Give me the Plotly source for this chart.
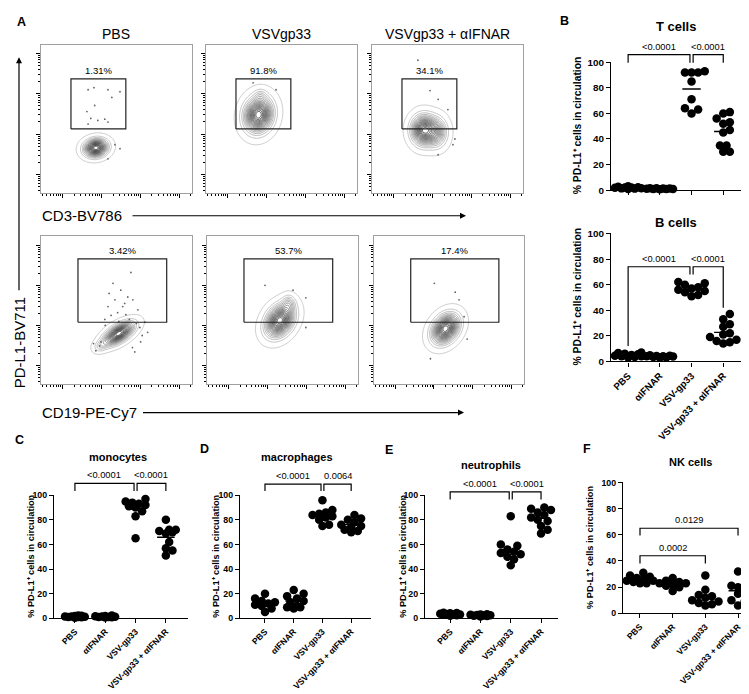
import numpy as np
import plotly.graph_objects as go

# ---------------- data ----------------
groups = ["PBS", "αIFNAR", "VSV-gp33", "VSV-gp33 + αIFNAR"]

t_cells = [
    [1.0, 1.5, 2.0, 2.6, 1.2, 1.8, 2.3, 3.0, 1.4, 2.0],
    [0.8, 1.0, 1.2, 1.4, 1.1, 0.9, 1.5, 1.3, 1.0],
    [92, 92, 93, 92, 85, 71, 64, 63, 60],
    [61, 60, 56, 53, 52, 47, 45, 35, 35, 30, 30],
]
b_cells = [
    [3.0, 4.0, 5.0, 6.0, 7.0, 4.5, 3.5, 5.5, 4.0, 6.5],
    [3.0, 3.5, 4.0, 4.5, 3.8, 4.2, 3.2, 4.8, 4.0],
    [62, 61, 60, 58, 57, 56, 55, 54, 52, 51],
    [37, 33, 29, 27, 22, 21, 19, 17, 16, 15, 14],
]
monocytes = [
    [0.5, 1.0, 1.5, 2.0, 1.0, 0.8, 1.2, 1.8, 2.2, 1.4],
    [0.6, 1.0, 1.4, 1.8, 2.2, 1.1, 0.9, 1.6, 1.3],
    [97, 95, 94, 93, 92, 91, 90, 87, 83, 65],
    [80, 72, 72, 71, 70, 69, 62, 57, 55, 51],
]
macrophages = [
    [20, 16, 14, 13, 12, 11, 10, 8, 5],
    [23, 20, 18, 16, 14, 13, 10, 9, 9, 8],
    [96, 88, 86, 85, 84, 83, 82, 80, 76, 75],
    [84, 81, 80, 78, 76, 75, 74, 72, 71, 70],
]
neutrophils = [
    [2.0, 2.5, 3.0, 3.5, 4.0, 4.5, 3.0, 2.8, 3.6, 4.2],
    [1.5, 2.0, 2.5, 3.0, 2.2, 2.8, 1.8, 2.6, 3.2],
    [83, 60, 59, 56, 54, 53, 52, 50, 48, 43],
    [90, 89, 88, 86, 84, 82, 80, 79, 75, 72, 69],
]
nk_cells = [
    [31, 29, 28, 27, 26, 25, 25, 24, 23, 23],
    [27, 25, 24, 23, 23, 22, 21, 20, 17],
    [29, 18, 14, 13, 12, 10, 9, 8, 7, 6],
    [32, 23, 21, 20, 19, 15, 10, 9, 6],
]

t_pvals = ["<0.0001", "<0.0001"]
b_pvals = ["<0.0001", "<0.0001"]
mono_pvals = ["<0.0001", "<0.0001"]
macro_pvals = ["<0.0001", "0.0064"]
neut_pvals = ["<0.0001", "<0.0001"]
nk_pvals = ["0.0129", "0.0002"]

# flow cytometry: titles, gate frequencies, gates (log10 fluorescence units)
flow_titles = ["PBS", "VSVgp33", "VSVgp33 + αIFNAR"]
cd3_pcts = ["1.31%", "91.8%", "34.1%"]
cd19_pcts = ["3.42%", "53.7%", "17.4%"]
cd3_gate = [2.22, 3.63, 3.13, 4.37]    # x0, x1, y0, y1
cd19_gate = [2.40, 4.68, 3.08, 4.66]

# population density components: (cx, cy, sx, sy, rho, weight), log10 units
cd3_pops = [
    [(2.86, 2.66, 0.17, 0.125, 0.1, 1.0)],
    [(2.80, 3.48, 0.21, 0.25, 0.1, 1.0), (2.85, 3.95, 0.10, 0.10, 0.0, 0.1)],
    [(2.78, 3.10, 0.18, 0.21, 0.0, 1.0), (3.10, 3.05, 0.16, 0.21, 0.0, 0.5)],
]
cd19_pops = [
    [(3.45, 2.80, 0.22, 0.16, 0.6, 1.0), (3.00, 2.50, 0.11, 0.09, 0.3, 0.15)],
    [(3.32, 3.12, 0.21, 0.23, 0.3, 1.0), (3.55, 3.55, 0.10, 0.12, 0.0, 0.2)],
    [(3.30, 2.92, 0.20, 0.21, 0.3, 1.0)],
]
# sparse events outside the contours (log10 x, log10 y)
cd3_events = [
    [(2.66, 4.10), (2.81, 4.15), (3.17, 4.10), (3.48, 4.05), (3.27, 3.91), (2.63, 3.56),
     (2.83, 3.71), (2.73, 3.39), (2.91, 3.34), (3.09, 3.37), (3.17, 3.30), (2.66, 3.25),
     (3.35, 2.74), (3.48, 2.64), (3.17, 2.39)],
    [(2.66, 4.27), (3.25, 4.10)],
    [(2.94, 4.08), (3.15, 3.86), (3.40, 3.61), (3.58, 2.88), (3.53, 2.74), (3.15, 2.49),
     (2.63, 4.83)],
]
cd19_events = [
    [(3.76, 4.32), (3.30, 4.05), (3.50, 3.88), (3.81, 3.64), (3.17, 3.47), (3.94, 3.39),
     (3.63, 3.27), (4.12, 3.08), (3.09, 3.15), (4.19, 2.83), (4.01, 2.59), (2.99, 2.59),
     (2.86, 2.37), (3.86, 2.34), (3.35, 3.64), (3.55, 3.47), (3.68, 3.71), (3.42, 3.32),
     (3.99, 2.95), (2.96, 2.49), (3.25, 3.25), (3.72, 3.15), (3.90, 3.05), (3.10, 3.00),
     (4.05, 2.75), (3.80, 2.45), (2.80, 2.55), (3.60, 3.55), (3.20, 3.80), (3.45, 3.10)],
    [(2.94, 4.00), (3.66, 3.88), (3.99, 3.69), (3.99, 2.95)],
    [(3.01, 4.05), (3.55, 3.83), (3.65, 3.64), (3.86, 2.66), (2.91, 2.17), (3.78, 3.22)],
]

# ---------------- layout helpers ----------------
W, H = 749, 694
FONT = "Liberation Sans, Arial, sans-serif"


def dom_x(a, b):
    return [a / W, b / W]


def dom_y(top, bottom):
    return [1 - bottom / H, 1 - top / H]


fig = go.Figure()
layout = dict(width=W, height=H, margin=dict(l=0, r=0, t=0, b=0),
              paper_bgcolor="white", plot_bgcolor="rgba(0,0,0,0)", showlegend=False,
              font=dict(family=FONT, color="black"))
annotations = []


def txt(x, y, text, size, bold=False, angle=0, xanchor="center", yanchor="middle"):
    annotations.append(dict(x=x / W, y=1 - y / H, xref="paper", yref="paper", text=text,
                            showarrow=False, textangle=angle, xanchor=xanchor, yanchor=yanchor,
                            font=dict(size=size, family=FONT, color="black",
                                      weight="bold" if bold else "normal")))


def arrow_label(hx, hy, cx, cy, text, size, angle=0, standoff=8):
    # label centred at (cx, cy) px with an arrow running from it to the head (hx, hy)
    annotations.append(dict(x=hx / W, y=1 - hy / H, xref="paper", yref="paper", text=text,
                            showarrow=True, ax=cx - hx, ay=cy - hy, textangle=angle,
                            arrowhead=2, arrowsize=1, arrowwidth=1.2, arrowcolor="black",
                            startstandoff=standoff,
                            font=dict(size=size, family=FONT, color="black")))


# ---------------- panel A: flow plots (axes in log10 units) ----------------
FX = [1.45, 5.33]
FY = [1.54, 5.22]
flow_boxes = [(33, 184, 31, 182), (198, 349, 31, 182), (364, 515, 31, 182),
              (33, 184, 226, 376), (199, 350, 226, 376), (366, 516, 226, 376)]


def decade_ticks(rng):
    major = [d for d in range(1, 7) if rng[0] <= d <= rng[1]]
    minor = [d + np.log10(k) for d in range(0, 7) for k in range(2, 10)
             if rng[0] <= d + np.log10(k) <= rng[1]]
    return major, minor


gx = np.linspace(FX[0], FX[1], 180)
gy = np.linspace(FY[0], FY[1], 180)
XX, YY = np.meshgrid(gx, gy)


def density(comps):
    z = np.zeros_like(XX)
    for cx, cy, sx, sy, rho, w in comps:
        u = (XX - cx) / sx
        v = (YY - cy) / sy
        q = (u * u - 2 * rho * u * v + v * v) / (1 - rho * rho)
        z += w * np.exp(-q / 2)
    return z / z.max()


flow_pops = cd3_pops + cd19_pops
flow_events = cd3_events + cd19_events
flow_pcts = cd3_pcts + cd19_pcts

for k in range(6):
    n = k + 1
    xa = "x" if n == 1 else f"x{n}"
    ya = "y" if n == 1 else f"y{n}"
    x0, x1, top, bot = flow_boxes[k]
    gate = cd3_gate if k < 3 else cd19_gate
    ax_common = dict(showline=True, mirror=True, linecolor="#a0a0a0", linewidth=1,
                     ticks="outside", ticklen=4, tickwidth=1, tickcolor="black",
                     showticklabels=False, showgrid=False, zeroline=False)
    mjx, mnx = decade_ticks(FX)
    mjy, mny = decade_ticks(FY)
    layout[f"xaxis{n}"] = dict(ax_common, domain=dom_x(x0, x1), range=FX, anchor=ya,
                               tickvals=mjx,
                               minor=dict(tickvals=mnx, ticks="outside", ticklen=2,
                                          tickwidth=0.8, tickcolor="black", showgrid=False))
    layout[f"yaxis{n}"] = dict(ax_common, domain=dom_y(top, bot), range=FY, anchor=xa,
                               tickvals=mjy,
                               minor=dict(tickvals=mny, ticks="outside", ticklen=2,
                                          tickwidth=0.8, tickcolor="black", showgrid=False))

    fig.add_trace(go.Contour(
        x=gx, y=gy, z=density(flow_pops[k]), xaxis=xa, yaxis=ya,
        autocontour=False, contours=dict(coloring="lines", start=0.012, end=0.97, size=0.055),
        line=dict(width=0.7), colorscale=[[0, "#b4b4b4"], [0.5, "#555555"], [1, "#151515"]],
        showscale=False, hoverinfo="skip"))
    ev = flow_events[k]
    fig.add_trace(go.Scatter(
        x=[e[0] for e in ev], y=[e[1] for e in ev], mode="markers",
        marker=dict(size=1.8, color="#666"), xaxis=xa, yaxis=ya, hoverinfo="skip"))
    fig.add_trace(go.Scatter(
        x=[gate[0], gate[1], gate[1], gate[0], gate[0]],
        y=[gate[2], gate[2], gate[3], gate[3], gate[2]], mode="lines",
        line=dict(color="#222", width=1.2), xaxis=xa, yaxis=ya, hoverinfo="skip"))
    annotations.append(dict(x=(gate[0] + gate[1]) / 2, y=gate[3], xref=xa, yref=ya,
                            text=flow_pcts[k], showarrow=False, yanchor="bottom", yshift=1,
                            font=dict(size=9.5, family=FONT, color="black")))

for k, t in enumerate(flow_titles):
    x0, x1, _, _ = flow_boxes[k]
    txt((x0 + x1) / 2, 20, t, 14)

arrow_label(458, 205, 74, 205, "CD3-BV786", 15, standoff=9)
arrow_label(456, 405, 81, 405, "CD19-PE-Cy7", 15, standoff=5)
arrow_label(11, 44, 11, 330, "PD-L1-BV711", 15, angle=-90, standoff=6)

# ---------------- panels B-F: scatter dot plots ----------------
# data, pvals, x0px, x1px, px of 100, px of 0, xrange, brackets, title, title pos,
# y-title x, show x labels, font scale
dot_panels = [
    (t_cells, t_pvals, 603, 733, 49, 179, [-0.54, 3.56],
     [(0, 1.95, 106, 99.5, 99.5), (2.05, 3, 106, 99.5, 99.5)],
     "T cells", (668, 13), 569, False, 1.12),
    (b_cells, b_pvals, 603, 733, 223, 353, [-0.54, 3.56],
     [(0, 1.95, 74, 12, 68), (2.05, 3, 74, 68, 42)],
     "B cells", (668, 212), 569, True, 1.12),
    (monocytes, mono_pvals, 46, 180, 489, 614, [-0.69, 3.73],
     [(0, 1.95, 109.6, 103.5, 103.5), (2.05, 3, 109.6, 103.5, 103.5)],
     "monocytes", (110, 450), 23, True, 1.0),
    (macrophages, macro_pvals, 232, 363, 489, 614, [-0.87, 3.69],
     [(0, 1.95, 109, 103.5, 103.5), (2.05, 3, 109, 103.5, 103.5)],
     "macrophages", (289, 450), 208, True, 1.0),
    (neutrophils, neut_pvals, 417, 550, 489, 614, [-0.83, 3.56],
     [(0, 1.95, 102.7, 96.5, 96.5), (2.05, 3, 102.7, 96.5, 96.5)],
     "neutrophils", (483, 458), 395, True, 1.0),
    (nk_cells, nk_pvals, 615, 748, 476, 609, [-0.52, 3.55],
     [(0, 3, 65, 59.4, 59.4), (0, 2, 44, 38, 38)],
     "NK cells", (682, 455), 582, True, 1.0),
]

DOT = 8.5
YMAX = 125


def swarm(vals, ppx, ppy, d=6.6, maxoff=0.42):
    vals = np.asarray(vals, float)
    res = np.zeros(len(vals))
    placed = []
    step = d * 0.5
    cands = [0.0]
    for m in range(1, 14):
        cands += [m * step, -m * step]
    cands = [c for c in cands if abs(c) <= maxoff * ppx]
    for k in np.argsort(vals):
        y = vals[k] * ppy
        best, best_d, best_c = None, -1, 0.0
        for c in cands:
            md = min([np.hypot(c - px, y - py) for px, py in placed] or [1e9])
            if md >= d:
                best = c
                break
            if md > best_d:
                best_d, best_c = md, c
        if best is None:
            best = best_c
        placed.append((best, y))
        res[k] = best / ppx
    return res


for p, (data, pvals, x0, x1, top, bot, xr, brs, title, tpos, ytx, labels, fs) in enumerate(dot_panels):
    n = p + 7          # visible axes, 0-100
    m = p + 13         # hidden axes with headroom for the brackets
    xa, ya = f"x{n}", f"y{n}"
    xb, yb = f"x{m}", f"y{m}"
    ppx = (x1 - x0) / (xr[1] - xr[0])
    ppy = (bot - top) / 100.0
    top_ext = top - (YMAX - 100) * ppy
    layout[f"xaxis{n}"] = dict(
        domain=dom_x(x0, x1), range=xr, anchor=ya, tickvals=list(range(4)),
        ticktext=groups, showticklabels=labels, tickangle=-45,
        ticks="outside", ticklen=4, tickwidth=1.2, tickcolor="black",
        showline=True, linecolor="black", linewidth=1.3, showgrid=False, zeroline=False,
        tickfont=dict(size=8.6 * fs, family=FONT, color="black", weight="bold"))
    layout[f"yaxis{n}"] = dict(
        domain=dom_y(top, bot), range=[0, 100], anchor=xa, tickvals=[0, 20, 40, 60, 80, 100],
        ticks="outside", ticklen=4, tickwidth=1.2, tickcolor="black",
        showline=True, linecolor="black", linewidth=1.3, showgrid=False, zeroline=False,
        tickfont=dict(size=8.8 * fs, family=FONT, color="black", weight="bold"))
    layout[f"xaxis{m}"] = dict(domain=dom_x(x0, x1), range=xr, anchor=yb, visible=False,
                               showgrid=False, zeroline=False)
    layout[f"yaxis{m}"] = dict(domain=dom_y(top_ext, bot), range=[0, YMAX], anchor=xb,
                               visible=False, showgrid=False, zeroline=False)

    px_, py_, mx, my = [], [], [], []
    for i, vals in enumerate(data):
        off = swarm(vals, ppx, ppy)
        px_ += list(i + off)
        py_ += list(vals)
        mean = float(np.mean(vals))
        mx += [i - 0.29, i + 0.29, None]
        my += [mean, mean, None]
    fig.add_trace(go.Scatter(x=mx, y=my, mode="lines", cliponaxis=False,
                             line=dict(color="black", width=1.4), xaxis=xa, yaxis=ya,
                             hoverinfo="skip"))
    fig.add_trace(go.Scatter(x=px_, y=py_, mode="markers", cliponaxis=False,
                             marker=dict(size=DOT, color="black", line=dict(width=0)),
                             xaxis=xa, yaxis=ya, hoverinfo="skip"))
    bx, by = [], []
    for (i, j, ytop, li, lj), lab in zip(brs, pvals):
        bx += [i, i, j, j, None]
        by += [li, ytop, ytop, lj, None]
        annotations.append(dict(x=(i + j) / 2, y=ytop, xref=xb, yref=yb, text=lab,
                                showarrow=False, yanchor="bottom", yshift=1,
                                font=dict(size=9.3, family=FONT, color="black")))
    fig.add_trace(go.Scatter(x=bx, y=by, mode="lines", cliponaxis=False,
                             line=dict(color="black", width=1.2), xaxis=xb, yaxis=yb,
                             hoverinfo="skip"))
    txt(tpos[0], tpos[1], title, 11 * (1.18 if fs > 1 else 1), bold=True)
    txt(ytx, (top + bot) / 2, "% PD-L1⁺ cells in circulation", 9.2 * fs,
        bold=True, angle=-90)

# panel letters
for lab, x, y in [("A", 7, 8), ("B", 550, 7), ("C", 5, 433), ("D", 190, 442),
                  ("E", 375, 443), ("F", 573, 442)]:
    txt(x, y, lab, 12.5, bold=True, xanchor="left")

layout["annotations"] = annotations
fig.update_layout(**layout)
fig.write_html("out.html")
